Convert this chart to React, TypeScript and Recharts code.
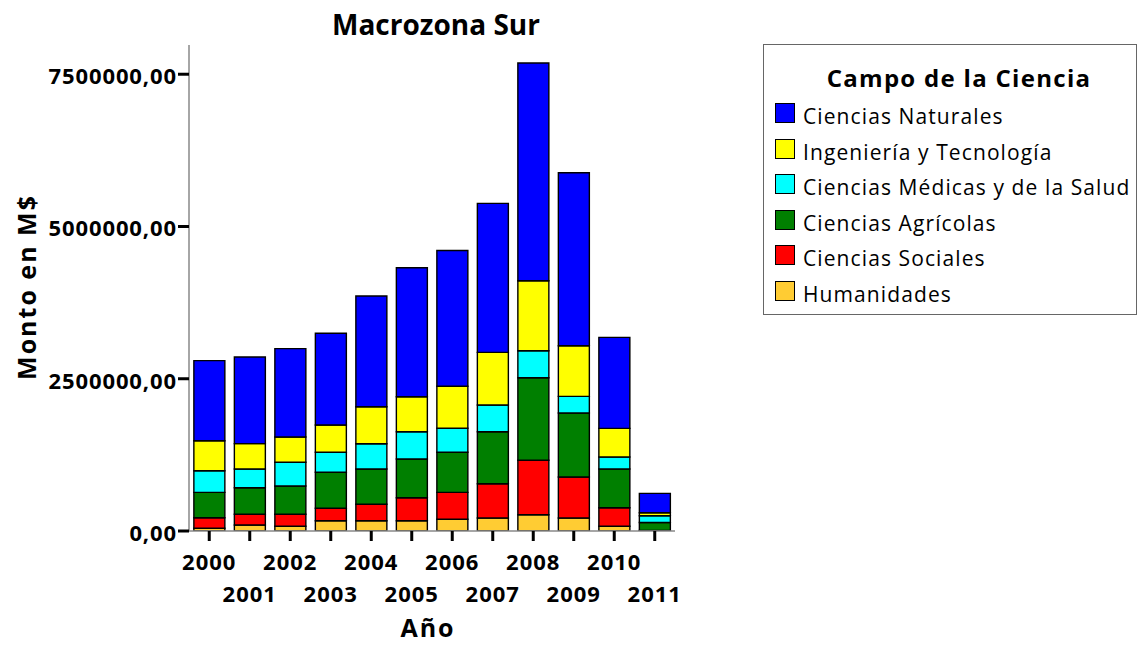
import React from 'react';
import { BarChart, Bar, XAxis, YAxis, Legend } from 'recharts';

// años y montos (M$) por campo de la ciencia
const years = ['2000', '2001', '2002', '2003', '2004', '2005', '2006', '2007', '2008', '2009', '2010', '2011'];

const humanidades = [44000, 99000, 77000, 169000, 169000, 169000, 192000, 213000, 268000, 213000, 77000, 5000];
const sociales = [174000, 175000, 197000, 204000, 269000, 378000, 443000, 563000, 893000, 673000, 305000, 5000];
const agricolas = [417000, 437000, 465000, 591000, 580000, 635000, 657000, 854000, 1356000, 1051000, 635000, 130000];
const medicas = [355000, 307000, 389000, 328000, 415000, 448000, 394000, 438000, 443000, 274000, 197000, 110000];
const ingenieria = [493000, 416000, 416000, 448000, 608000, 575000, 690000, 865000, 1149000, 831000, 471000, 50000];
const naturales = [1314000, 1424000, 1450000, 1506000, 1818000, 2118000, 2230000, 2447000, 3575000, 2841000, 1494000, 317000];

const yTicks = [0, 2500000, 5000000, 7500000];

// orden de apilado: de abajo hacia arriba
const seriesNames = [
  'Humanidades',
  'Ciencias Sociales',
  'Ciencias Agrícolas',
  'Ciencias Médicas y de la Salud',
  'Ingeniería y Tecnología',
  'Ciencias Naturales',
];
const seriesColors = ['#FFCC33', '#FF0000', '#007F00', '#00FFFF', '#FFFF00', '#0000FF'];
const seriesValues = [humanidades, sociales, agricolas, medicas, ingenieria, naturales];

const data = years.map((year, i) => {
  const row: Record<string, string | number> = { year };
  seriesNames.forEach((name, s) => {
    row[name] = seriesValues[s][i];
  });
  return row;
});

const FONT = '"Open Sans", sans-serif';

const YTick = ({ x, y, payload }: any) => (
  <text x={x} y={y} dy={10} textAnchor="end" fontFamily={FONT} fontWeight={700} fontSize={22} letterSpacing={0.9} fill="#000">
    {`${payload.value},00`}
  </text>
);

const XTick = ({ x, y, payload, index }: any) => (
  <text x={x} y={y} dy={index % 2 === 0 ? 28.5 : 60.5} textAnchor="middle" fontFamily={FONT} fontWeight={700} fontSize={22} letterSpacing={1} fill="#000">
    {payload.value}
  </text>
);

const LegendBox = () => (
  <div
    style={{
      width: 374,
      height: 271,
      border: '1px solid #666',
      boxSizing: 'border-box',
      background: '#fff',
      fontFamily: FONT,
      position: 'relative',
      color: '#000',
    }}
  >
    <div
      style={{
        position: 'absolute',
        top: 21,
        left: 18,
        right: 0,
        textAlign: 'center',
        fontWeight: 700,
        fontSize: 24,
        lineHeight: '24px',
        letterSpacing: 1.3,
        whiteSpace: 'nowrap',
      }}
    >
      Campo de la Ciencia
    </div>
    {[...seriesNames].reverse().map((name, i) => (
      <div
        key={name}
        style={{ position: 'absolute', left: 11, top: 56 + i * 35.5, height: 24, display: 'flex', alignItems: 'center' }}
      >
        <span
          style={{
            width: 20,
            height: 20,
            background: seriesColors[seriesNames.indexOf(name)],
            border: '1px solid #000',
            boxSizing: 'border-box',
            display: 'inline-block',
          }}
        />
        <span style={{ marginLeft: 8, fontSize: 21, lineHeight: '24px', letterSpacing: 1.1, position: 'relative', top: 3, whiteSpace: 'nowrap' }}>
          {name}
        </span>
      </div>
    ))}
  </div>
);

export default function App() {
  return (
    <div style={{ position: 'absolute', left: 0, top: 0, width: 1140, height: 645, background: '#fff' }}>
      <BarChart
        width={1140}
        height={645}
        data={data}
        margin={{ top: 45, right: 465, bottom: 0, left: 0 }}
        barCategoryGap="12%"
      >
        <XAxis
          dataKey="year"
          height={114}
          interval={0}
          tickSize={10}
          tickMargin={0}
          tick={<XTick />}
          tickLine={{ stroke: '#000', strokeWidth: 3 }}
          axisLine={{ stroke: '#888', strokeWidth: 1.5 }}
        />
        <XAxis xAxisId="top" orientation="top" height={0} tick={false} tickLine={false} axisLine={{ stroke: '#888', strokeWidth: 1.5 }} />
        <YAxis
          width={189}
          domain={[0, 7980000]}
          ticks={yTicks}
          allowDataOverflow
          tickSize={11}
          tickMargin={1}
          tick={<YTick />}
          tickLine={{ stroke: '#000', strokeWidth: 3 }}
          axisLine={{ stroke: '#888', strokeWidth: 1.5 }}
        />
        <YAxis yAxisId="right" orientation="right" width={0} domain={[0, 7980000]} tick={false} tickLine={false} axisLine={{ stroke: '#888', strokeWidth: 1.5 }} />
        {seriesNames.map((name, s) => (
          <Bar
            key={name}
            dataKey={name}
            name={name}
            stackId="monto"
            fill={seriesColors[s]}
            stroke="#000"
            strokeWidth={1.4}
            isAnimationActive={false}
          />
        ))}
        <Legend
          layout="horizontal"
          verticalAlign="middle"
          align="center"
          content={<LegendBox />}
          wrapperStyle={{ position: 'absolute', left: 763, top: 44, width: 374, height: 271 }}
        />
        <text x={436} y={35} textAnchor="middle" fontFamily={FONT} fontWeight={700} fontSize={28} fill="#000">
          Macrozona Sur
        </text>
        <text transform="translate(36,287) rotate(-90)" textAnchor="middle" fontFamily={FONT} fontWeight={700} fontSize={25} letterSpacing={2} fill="#000">
          Monto en M$
        </text>
        <text x={428} y={637} textAnchor="middle" fontFamily={FONT} fontWeight={700} fontSize={25} letterSpacing={2} fill="#000">
          Año
        </text>
      </BarChart>
    </div>
  );
}
